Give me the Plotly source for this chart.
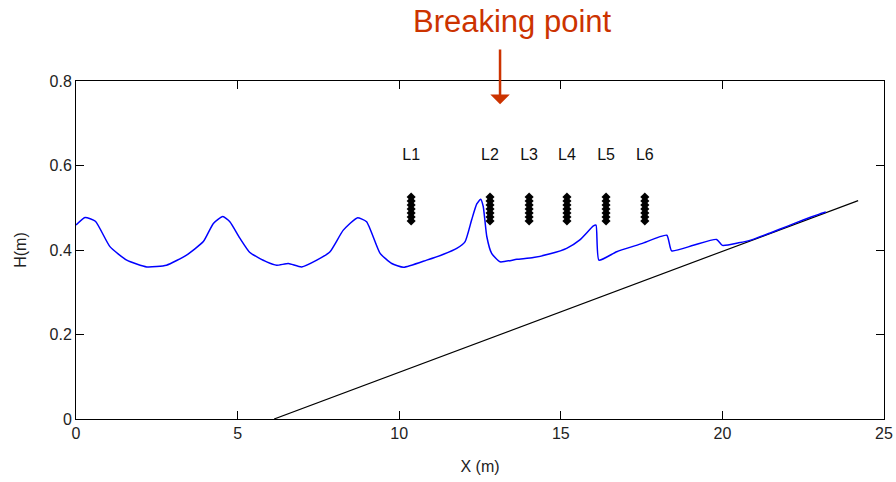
import plotly.graph_objects as go

# ---- data ----
wave_x = [0.0, 0.28, 0.6, 1.05, 1.57, 2.19, 2.8, 3.42, 3.94, 4.25, 4.54, 4.76, 5.07, 5.38,
          5.9, 6.21, 6.57, 6.98, 7.45, 7.86, 8.27, 8.7, 8.99, 9.41, 9.77, 10.13, 10.85,
          11.37, 11.78, 12.04, 12.24, 12.4, 12.52, 12.6, 12.71, 12.86, 13.12, 13.64,
          14.15, 14.67, 15.18, 15.59, 16.01, 16.09, 16.18, 16.73, 17.5, 18.28, 18.43,
          19.1, 19.82, 20.0, 20.5, 20.9, 21.5, 22.0, 22.5, 23.0, 23.2]
wave_h = [0.459, 0.477, 0.468, 0.408, 0.376, 0.360, 0.364, 0.388, 0.420, 0.463, 0.479,
          0.467, 0.428, 0.394, 0.372, 0.364, 0.368, 0.360, 0.376, 0.396, 0.447, 0.476,
          0.467, 0.392, 0.368, 0.359, 0.376, 0.390, 0.404, 0.420, 0.471, 0.509, 0.520,
          0.503, 0.432, 0.392, 0.372, 0.378, 0.382, 0.391, 0.404, 0.424, 0.457, 0.459,
          0.376, 0.396, 0.415, 0.435, 0.398, 0.411, 0.425, 0.411, 0.417, 0.424, 0.441,
          0.456, 0.471, 0.485, 0.490]

beach_x = [6.13, 24.2]
beach_h = [0.0, 0.517]

gauge_x = [10.37, 12.81, 14.02, 15.19, 16.40, 17.60]
gauge_labels = ["L1", "L2", "L3", "L4", "L5", "L6"]
gauge_levels = [0.4685, 0.478, 0.4875, 0.497, 0.5065, 0.516, 0.5255]
label_y = 0.622

x_ticks = [0, 5, 10, 15, 20, 25]
y_ticks = [0, 0.2, 0.4, 0.6, 0.8]
y_tick_text = ["0", "0.2", "0.4", "0.6", "0.8"]

break_x = 13.12
title_text = "Breaking point"

# ---- figure ----
fig = go.Figure()

fig.add_trace(go.Scatter(x=beach_x, y=beach_h, mode="lines",
                         line=dict(color="black", width=1.2), hoverinfo="skip"))
fig.add_trace(go.Scatter(x=wave_x, y=wave_h, mode="lines",
                         line=dict(color="#0000ff", width=1.5, shape="spline", smoothing=0.5),
                         hoverinfo="skip"))

stack_x = [gx for gx in gauge_x for _ in gauge_levels]
stack_y = [lv for _ in gauge_x for lv in gauge_levels]
fig.add_trace(go.Scatter(x=stack_x, y=stack_y, mode="markers",
                         marker=dict(symbol="diamond", size=7, color="black"),
                         hoverinfo="skip"))

fig.add_trace(go.Scatter(x=gauge_x, y=[label_y] * len(gauge_x), mode="text",
                         text=gauge_labels,
                         textfont=dict(family="Liberation Sans, Arial", size=16, color="#111111"),
                         hoverinfo="skip"))

fig.add_annotation(x=break_x, y=0.745, ax=break_x, ay=0.878, xref="x", yref="y",
                   axref="x", ayref="y", text="", showarrow=True,
                   arrowhead=1, arrowsize=1.3, arrowwidth=2.5, arrowcolor="#cc3300")
fig.add_annotation(x=13.49, y=1.1746, xref="x", yref="paper", text=title_text,
                   showarrow=False, xanchor="center", yanchor="middle",
                   font=dict(family="Liberation Sans, Arial", size=31, color="#cc3300"))

axis_font = dict(family="Liberation Sans, Arial", size=16, color="#222222")
fig.update_xaxes(range=[0, 25], tickvals=x_ticks, ticks="inside", ticklen=8,
                 tickcolor="black", showline=True, linecolor="black", linewidth=1,
                 mirror="ticks", showgrid=False, zeroline=False, tickfont=axis_font,
                 automargin=False,
                 title=dict(text="X (m)", font=axis_font, standoff=19))
fig.update_yaxes(range=[0, 0.8], tickvals=y_ticks, ticktext=y_tick_text, ticks="inside",
                 ticklen=8, tickcolor="black", showline=True, linecolor="black",
                 linewidth=1, mirror="ticks", showgrid=False, zeroline=False,
                 tickfont=axis_font, automargin=False,
                 title=dict(text="H(m)", font=axis_font, standoff=18))

fig.update_layout(width=896, height=482, margin=dict(l=76, r=12, t=81, b=63),
                  plot_bgcolor="white", paper_bgcolor="white", showlegend=False)

fig.write_html("out.html", config={"displayModeBar": False},
               post_script="document.body.style.margin='0';document.body.style.overflow='hidden';")
